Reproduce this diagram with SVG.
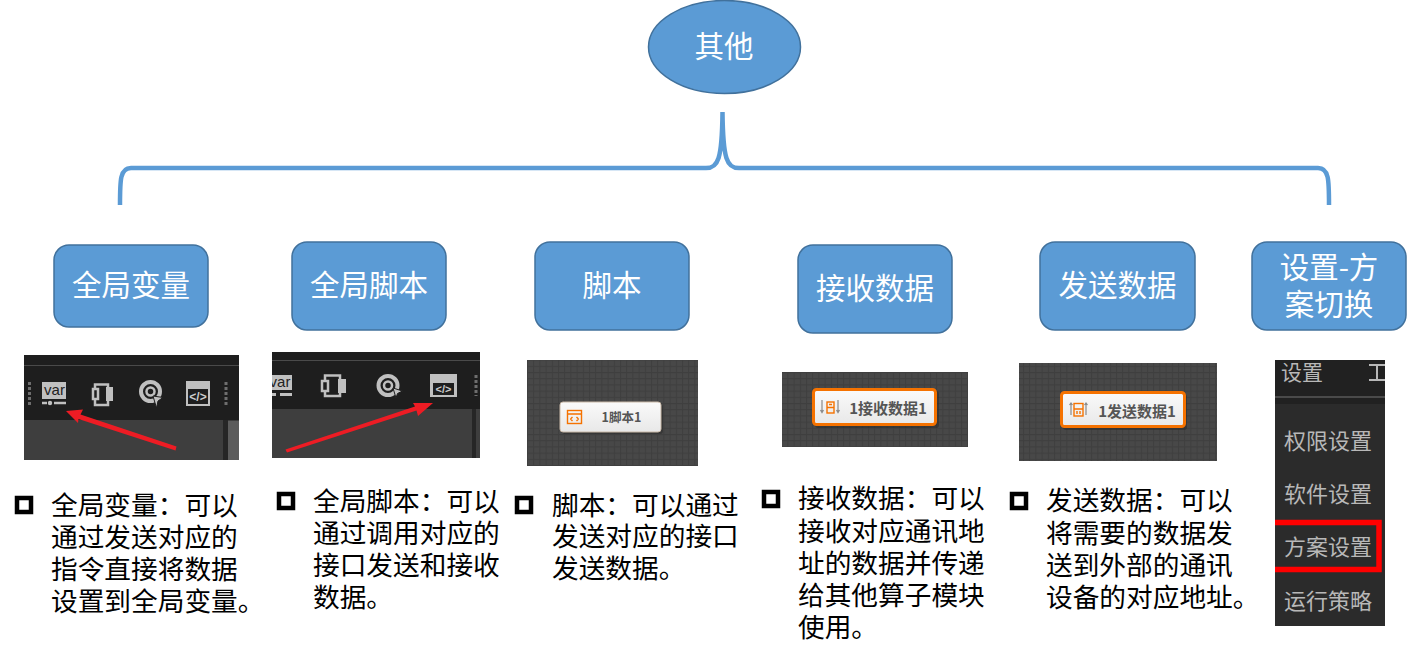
<svg xmlns="http://www.w3.org/2000/svg" width="1407" height="652" viewBox="0 0 1407 652">
<style>
text{font-family:"Noto Sans CJK SC","Liberation Sans",sans-serif}
.n{fill:#5b9bd5;stroke:#41719c;stroke-width:1.5}
.nt{fill:#fff;font-size:29.5px;text-anchor:middle}
.b{fill:#000;font-size:26.7px}
.sq{fill:#fff;stroke:#000;stroke-width:4.500}
.ic{fill:none;stroke:#c0c0c0;stroke-width:2.500}
.icd{fill:#1e1e1e;stroke:#c0c0c0;stroke-width:2.500}
.ring{fill:none;stroke:#c0c0c0;stroke-width:4}
.icf{fill:#c0c0c0}
.lat{font-family:"Liberation Sans",sans-serif;text-anchor:middle}
.arr{fill:#ed1c24}
.or{fill:none;stroke:#f57200;stroke-width:1.400}
.gr{fill:none;stroke:#8a8a8a;stroke-width:1.200}
.shadow{fill:#2a2a2a;opacity:.55}
.ct{fill:#555;font-weight:700;text-anchor:middle}
.menu{fill:#b8b8b8;font-size:22px}
</style>
<defs>
<pattern id="grid" width="6.200" height="6.200" patternUnits="userSpaceOnUse"><rect width="6.200" height="6.200" fill="#484848"/><path d="M0 .5H6.200M.5 0V6.200" stroke="#3f3f3f" stroke-width="1"/></pattern>
<linearGradient id="cg" x1="0" y1="0" x2="0" y2="1"><stop offset="0" stop-color="#fafafa"/><stop offset="1" stop-color="#e8e8e8"/></linearGradient>
<clipPath id="clipB"><rect x="272" y="352" width="208" height="106"/></clipPath>
</defs>

<g id="connectors">
<path d="M120 205C120 180 120 168 131 168H706C718 168 722 160 722.500 112C723 160 727 168 739 168H1318C1329 168 1329 180 1329 205" fill="none" stroke="#5b9bd5" stroke-width="4.500"/>
</g>

<g id="root"><ellipse class="n" cx="724.500" cy="47" rx="76" ry="46.500"/><text class="nt" x="724" y="57">其他</text></g>

<g id="node-global-var">
<rect class="n" x="54" y="245" width="154" height="82" rx="15"/><text class="nt" x="131" y="296">全局变量</text>
<g id="shot-global-var">
<rect x="24" y="355" width="215" height="105" fill="#1e1e1e"/>
<rect x="24" y="365" width="215" height="1" fill="#4a4a4a"/>
<rect x="24" y="420" width="215" height="40" fill="#3e3e3e"/>
<rect x="223" y="420" width="5" height="40" fill="#262626"/><rect x="228" y="421" width="11" height="39" fill="#5c5c5c"/>
<path d="M29.500 382V406M226 382V406" stroke="#6e6e6e" stroke-width="3" stroke-dasharray="3 2"/>
<rect x="42" y="382" width="24" height="17" class="icf"/><text class="lat" x="54.500" y="395" font-size="15" fill="#222">var</text>
<path d="M42 403H47M54 403H66" stroke="#c0c0c0" stroke-width="2.500"/><circle cx="50" cy="403" r="2.200" fill="#c0c0c0"/>
<rect class="ic" x="95" y="384.500" width="13" height="20.500"/><rect class="icd" x="93" y="389" width="5" height="10"/><rect class="icf" x="106" y="387" width="7" height="14"/>
<circle class="ring" cx="150.500" cy="391.500" r="9.500"/><circle class="ic" cx="150.500" cy="391.500" r="4"/><path class="icf" stroke="#1e1e1e" d="M153 396L163 397.500L158 401L156.500 408Z"/>
<rect class="icf" x="186" y="381" width="24" height="25"/><rect x="188" y="389" width="20" height="15" fill="#1e1e1e"/><text class="lat" x="198" y="401" font-size="12" font-weight="700" fill="#ccc">&lt;/&gt;</text>
<path class="arr" d="M66 411L83 409.500L80.500 414.500L176.500 446.500L175.500 450.500L78.500 419L78 423Z"/>
</g>
<rect class="sq" x="17" y="498" width="14" height="14"/>
<text class="b"><tspan x="51" y="515">全局变量：可以</tspan><tspan x="51" y="547">通过发送对应的</tspan><tspan x="51" y="579">指令直接将数据</tspan><tspan x="51" y="611">设置到全局变量。</tspan></text>
</g>

<g id="node-global-script">
<rect class="n" x="292" y="242" width="154" height="88" rx="15"/><text class="nt" x="369" y="296">全局脚本</text>
<g id="shot-global-script">
<rect x="272" y="352" width="208" height="106" fill="#1e1e1e"/>
<rect x="272" y="360" width="208" height="1" fill="#4a4a4a"/>
<rect x="272" y="409" width="208" height="49" fill="#3e3e3e"/>
<rect x="472" y="409" width="4" height="49" fill="#262626"/>
<path d="M476 375V396" stroke="#6e6e6e" stroke-width="3" stroke-dasharray="3 2"/>
<rect x="272" y="375" width="20" height="15" class="icf"/><text class="lat" clip-path="url(#clipB)" x="280" y="387" font-size="15" fill="#222">var</text>
<rect x="272" y="393" width="4" height="3" class="icf"/><rect x="280" y="393" width="12" height="3" class="icf"/>
<rect class="ic" x="325" y="375.500" width="15" height="20.500"/><rect class="icd" x="322" y="381" width="6" height="10"/><rect class="icf" x="338" y="379" width="8" height="14"/>
<circle class="ring" cx="388" cy="385.500" r="9.500"/><circle class="ic" cx="388" cy="385.500" r="4"/><path class="icf" stroke="#1e1e1e" d="M393 388L402.500 391L397.500 393.500L396 398Z"/>
<rect class="icf" x="430" y="374" width="27" height="23"/><rect x="433" y="383" width="21" height="12" fill="#1e1e1e"/><text class="lat" x="443.500" y="393" font-size="11" font-weight="700" fill="#ccc">&lt;/&gt;</text>
<path class="arr" d="M433 403L418 416L416.500 410.500L287 452.500L285.500 449.500L415 406.500L413 403Z"/>
</g>
<rect class="sq" x="279" y="494" width="14" height="14"/>
<text class="b"><tspan x="313" y="511">全局脚本：可以</tspan><tspan x="313" y="543">通过调用对应的</tspan><tspan x="313" y="575">接口发送和接收</tspan><tspan x="313" y="607">数据。</tspan></text>
</g>

<g id="node-script">
<rect class="n" x="535" y="242" width="154" height="88" rx="15"/><text class="nt" x="612" y="296">脚本</text>
<g id="shot-script">
<rect x="527" y="360" width="171" height="106" fill="url(#grid)"/>
<rect class="shadow" x="562" y="404" width="101" height="30" rx="3"/>
<rect x="560" y="402" width="101" height="30" rx="3" fill="url(#cg)" stroke="#c9b9a8"/>
<rect class="or" x="567.500" y="410.500" width="14" height="13"/><path class="or" d="M567.500 414H581.500M570.500 419L572.500 417M570.500 419L572.500 421M578.500 419L576.500 417M578.500 419L576.500 421"/>
<text class="ct" x="621.500" y="422" font-size="12.500">1脚本1</text>
</g>
<rect class="sq" x="517" y="498" width="14" height="14"/>
<text class="b"><tspan x="552" y="515">脚本：可以通过</tspan><tspan x="552" y="546">发送对应的接口</tspan><tspan x="552" y="578">发送数据。</tspan></text>
</g>

<g id="node-receive">
<rect class="n" x="798" y="245" width="154" height="88" rx="15"/><text class="nt" x="875" y="299">接收数据</text>
<g id="shot-receive">
<rect x="782" y="372" width="186" height="75" fill="url(#grid)"/>
<rect class="shadow" x="815" y="391" width="124" height="37" rx="3"/>
<rect x="813.500" y="389.500" width="122" height="35" rx="3" fill="url(#cg)" stroke="#f57200" stroke-width="3"/>
<rect class="or" x="827" y="402" width="7" height="11"/><path class="or" d="M827 407.500H834M829 404.500H832"/>
<path class="gr" d="M822 400V412M820.500 410L822 412.500L823.500 410M838 400V412M836.500 410L838 412.500L839.500 410"/>
<text class="ct" x="888" y="413.500" font-size="15">1接收数据1</text>
</g>
<rect class="sq" x="764" y="492" width="14" height="14"/>
<text class="b"><tspan x="798" y="508">接收数据：可以</tspan><tspan x="798" y="541">接收对应通讯地</tspan><tspan x="798" y="573">址的数据并传递</tspan><tspan x="798" y="605">给其他算子模块</tspan><tspan x="798" y="637">使用。</tspan></text>
</g>

<g id="node-send">
<rect class="n" x="1040" y="242" width="155" height="88" rx="15"/><text class="nt" x="1117.500" y="296">发送数据</text>
<g id="shot-send">
<rect x="1019" y="363" width="198" height="98" fill="url(#grid)"/>
<rect class="shadow" x="1063" y="394" width="124" height="36" rx="3"/>
<rect x="1061.500" y="392.500" width="123" height="34" rx="3" fill="url(#cg)" stroke="#f57200" stroke-width="3"/>
<rect class="or" x="1074" y="403.500" width="9" height="12.500"/><path class="or" d="M1074 409H1083M1077 411V414M1080 411V414"/>
<path class="gr" d="M1071 403V415M1086 403V415M1069.500 405L1071 403L1072.500 405M1084.500 405L1086 403L1087.500 405"/>
<text class="ct" x="1137" y="416.500" font-size="15">1发送数据1</text>
</g>
<rect class="sq" x="1012" y="494" width="14" height="14"/>
<text class="b"><tspan x="1046" y="510">发送数据：可以</tspan><tspan x="1046" y="543">将需要的数据发</tspan><tspan x="1046" y="575">送到外部的通讯</tspan><tspan x="1046" y="607">设备的对应地址。</tspan></text>
</g>

<g id="node-settings">
<rect class="n" x="1252" y="242" width="154" height="88" rx="15"/>
<text class="nt"><tspan x="1329" y="278">设置-方</tspan><tspan x="1329" y="315">案切换</tspan></text>
<g id="shot-settings">
<rect x="1275" y="360" width="110" height="266" fill="#2b2b2b"/>
<rect x="1275" y="360" width="110" height="44" fill="#212121"/>
<rect x="1275" y="396" width="110" height="2" fill="#4a4a4a"/>
<text class="menu" x="1281" y="380" style="font-size:21px">设置</text>
<path d="M1369 365H1385M1377 365V380M1369 380H1385" stroke="#b8b8b8" stroke-width="2" fill="none"/>
<text class="menu" x="1284" y="449">权限设置</text>
<text class="menu" x="1284" y="502">软件设置</text>
<text class="menu" x="1284" y="555">方案设置</text>
<text class="menu" x="1284" y="609">运行策略</text>
<path d="M1275 522.500H1379V569.500H1275" fill="none" stroke="#f00" stroke-width="5.500"/>
</g>
</g>
</svg>
